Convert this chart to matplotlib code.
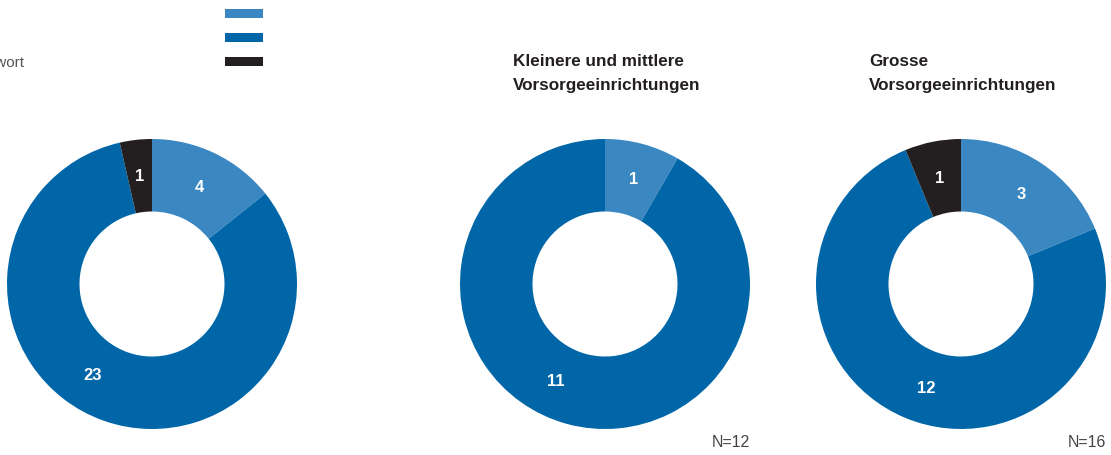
import numpy as np
import matplotlib.pyplot as plt
from matplotlib.patches import Rectangle

plt.rcParams['font.family'] = ['Liberation Sans', 'DejaVu Sans']

# answer categories and counts per group
categories = ['Ja', 'Nein', 'Keine Antwort']
colors = ['#3a87c1', '#0066a8', '#231f20']

total_counts = [4, 23, 1]
small_counts = [1, 11, 0]
large_counts = [3, 12, 1]

titles = ['', 'Kleinere und mittlere\nVorsorgeeinrichtungen', 'Grosse\nVorsorgeeinrichtungen']
n_labels = ['', 'N=12', 'N=16']

W, H = 1111, 456
fig = plt.figure(figsize=(W / 100, H / 100), dpi=100)

# donut centres in pixels, outer radius
centres = [(152, 285), (605, 285), (961, 285)]
R = 145
# extra rotation (deg) of the value label for the big "Nein" slice
nein_shift = [14, 12, -4]


def donut(cx, cy, counts, shift):
    ax = fig.add_axes([(cx - R) / W, (H - cy - R) / H, 2 * R / W, 2 * R / H])
    ax.pie(counts, colors=colors, startangle=90, counterclock=False,
           radius=1, wedgeprops=dict(width=0.5, linewidth=0))
    total = sum(counts)
    cum = 0
    for i, v in enumerate(counts):
        if v > 0:
            ang = (cum + v / 2) / total * 360 + (shift if i == 1 else 0)
            mid = np.deg2rad(90 - ang)
            ax.text(0.75 * np.cos(mid), 0.75 * np.sin(mid), str(v), color='white',
                    fontsize=12, fontweight='bold', ha='center', va='center')
        cum += v
    ax.set_xlim(-1, 1)
    ax.set_ylim(-1, 1)
    ax.set_aspect('equal')
    ax.axis('off')
    return ax


for (cx, cy), counts, title, nl, sh in zip(centres, [total_counts, small_counts, large_counts],
                                           titles, n_labels, nein_shift):
    donut(cx, cy, counts, sh)
    if title:
        fig.text((cx - 92) / W, 1 - 54 / H, title, fontsize=12.3, fontweight='bold',
                 color='#231f20', ha='left', va='top', linespacing=1.75)
    if nl:
        fig.text((cx + R) / W, 1 - 443 / H, nl, fontsize=11.5, color='#444444',
                 ha='right', va='center')

# legend: colour bars with labels on the left
for i, (cat, col) in enumerate(zip(categories, colors)):
    y = 14 + 24 * i
    fig.patches.append(Rectangle((225 / W, 1 - (y + 4.5) / H), 38 / W, 9 / H,
                                 transform=fig.transFigure, facecolor=col,
                                 edgecolor='none'))
    fig.text(-70 / W, 1 - (y + 1) / H, cat, fontsize=11, color='#555555',
             ha='left', va='center')

fig.savefig('out.png', dpi=100)
